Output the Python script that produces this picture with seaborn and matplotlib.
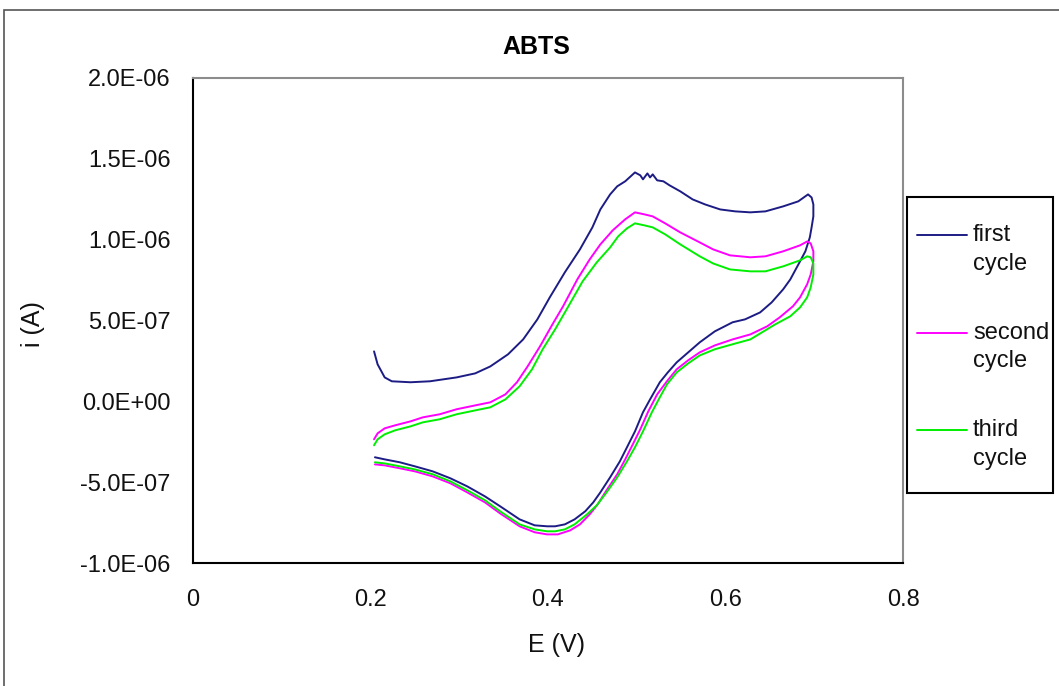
import numpy as np
import pandas as pd
import matplotlib
matplotlib.use("Agg")
import matplotlib.pyplot as plt
from matplotlib.ticker import FuncFormatter, MultipleLocator
from matplotlib.patches import Rectangle
from matplotlib.legend_handler import HandlerLine2D
import seaborn as sns

# ---------------- data (E in V, i in microamps) ----------------
series_names = ["first\ncycle", "second\ncycle", "third\ncycle"]
series_colors = ["#1c1c84", "#ff00ff", "#00ee00"]

first_E = [0.204, 0.208, 0.216, 0.224, 0.245, 0.267, 0.297, 0.318, 0.335, 0.355,
           0.372, 0.388, 0.402, 0.419, 0.436, 0.450, 0.459, 0.470, 0.478, 0.487,
           0.498, 0.504, 0.507, 0.512, 0.515, 0.518, 0.523, 0.530, 0.537, 0.549,
           0.563, 0.577, 0.594, 0.611, 0.628, 0.645, 0.665, 0.682, 0.693, 0.697, 0.699,
           0.699, 0.697, 0.695, 0.690, 0.684, 0.673, 0.665, 0.652, 0.639, 0.622,
           0.608, 0.588, 0.571, 0.558, 0.545, 0.535, 0.526, 0.515, 0.507, 0.498,
           0.489, 0.481, 0.470, 0.459, 0.451, 0.442, 0.430, 0.419, 0.408, 0.399,
           0.385, 0.368, 0.346, 0.329, 0.309, 0.290, 0.270, 0.250, 0.233, 0.216, 0.205]
first_i = [0.309, 0.229, 0.148, 0.124, 0.118, 0.124, 0.148, 0.173, 0.216, 0.291,
           0.383, 0.507, 0.643, 0.798, 0.940, 1.076, 1.187, 1.280, 1.330, 1.361,
           1.416, 1.398, 1.373, 1.410, 1.385, 1.404, 1.367, 1.361, 1.336, 1.299,
           1.249, 1.218, 1.187, 1.175, 1.169, 1.175, 1.206, 1.237, 1.280, 1.261, 1.218,
           1.144, 1.076, 1.014, 0.928, 0.866, 0.754, 0.693, 0.612, 0.550, 0.507,
           0.489, 0.433, 0.365, 0.303, 0.241, 0.179, 0.118, 0.012, -0.068, -0.186,
           -0.284, -0.371, -0.470, -0.563, -0.625, -0.680, -0.730, -0.761, -0.773, -0.773,
           -0.767, -0.730, -0.649, -0.588, -0.526, -0.476, -0.433, -0.402, -0.377, -0.359, -0.346]

second_E = [0.204, 0.208, 0.216, 0.228, 0.245, 0.259, 0.278, 0.297, 0.318, 0.335,
            0.352, 0.365, 0.377, 0.391, 0.405, 0.417, 0.433, 0.447, 0.459, 0.473,
            0.487, 0.498, 0.509, 0.518, 0.532, 0.549, 0.571, 0.586, 0.605, 0.628,
            0.645, 0.665, 0.684, 0.692, 0.696, 0.699,
            0.699, 0.696, 0.692, 0.684, 0.676, 0.661, 0.647, 0.628, 0.608, 0.588,
            0.571, 0.558, 0.545, 0.534, 0.523, 0.513, 0.504, 0.495, 0.487, 0.478,
            0.466, 0.456, 0.447, 0.436, 0.425, 0.411, 0.399, 0.385, 0.368, 0.346,
            0.329, 0.309, 0.290, 0.270, 0.250, 0.233, 0.216, 0.205]
second_i = [-0.235, -0.198, -0.167, -0.148, -0.124, -0.099, -0.080, -0.049, -0.025, -0.006,
            0.043, 0.118, 0.216, 0.340, 0.476, 0.588, 0.754, 0.878, 0.971, 1.058,
            1.126, 1.169, 1.156, 1.144, 1.101, 1.045, 0.983, 0.940, 0.903, 0.891,
            0.897, 0.928, 0.965, 0.989, 0.977, 0.928,
            0.866, 0.785, 0.724, 0.643, 0.588, 0.519, 0.464, 0.414, 0.383, 0.346,
            0.303, 0.254, 0.198, 0.124, 0.043, -0.062, -0.173, -0.272, -0.359, -0.451,
            -0.550, -0.637, -0.699, -0.761, -0.798, -0.823, -0.823, -0.810, -0.773, -0.693,
            -0.625, -0.563, -0.507, -0.464, -0.433, -0.414, -0.396, -0.390]

third_E = [0.204, 0.208, 0.216, 0.228, 0.245, 0.259, 0.278, 0.297, 0.318, 0.335,
           0.352, 0.368, 0.382, 0.394, 0.408, 0.421, 0.439, 0.455, 0.470, 0.479,
           0.489, 0.498, 0.509, 0.518, 0.532, 0.549, 0.571, 0.586, 0.605, 0.628,
           0.645, 0.665, 0.684, 0.692, 0.696, 0.699,
           0.699, 0.696, 0.692, 0.684, 0.673, 0.656, 0.628, 0.608, 0.588, 0.571,
           0.558, 0.545, 0.534, 0.526, 0.517, 0.507, 0.498, 0.489, 0.478, 0.466,
           0.455, 0.444, 0.430, 0.419, 0.408, 0.399, 0.385, 0.368, 0.346, 0.329,
           0.309, 0.290, 0.270, 0.250, 0.233, 0.216, 0.205]
third_i = [-0.272, -0.235, -0.204, -0.179, -0.155, -0.130, -0.111, -0.080, -0.056, -0.037,
           0.012, 0.093, 0.198, 0.322, 0.445, 0.569, 0.742, 0.860, 0.952, 1.020,
           1.070, 1.101, 1.088, 1.076, 1.033, 0.971, 0.897, 0.853, 0.816, 0.804,
           0.804, 0.835, 0.872, 0.897, 0.891, 0.853,
           0.785, 0.705, 0.643, 0.581, 0.526, 0.476, 0.383, 0.353, 0.322, 0.284,
           0.235, 0.179, 0.105, 0.025, -0.068, -0.186, -0.284, -0.371, -0.470, -0.563,
           -0.643, -0.699, -0.761, -0.792, -0.804, -0.804, -0.792, -0.761, -0.680, -0.612,
           -0.550, -0.495, -0.451, -0.421, -0.402, -0.384, -0.377]

x_ticks = [0, 0.2, 0.4, 0.6, 0.8]
y_min, y_max, y_step = -1.0e-6, 2.0e-6, 0.5e-6
title_text = "ABTS"
x_label = "E (V)"
y_label = "i (A)"

# ---------------- build long-form frame ----------------
frames = []
for name, E, I in zip(series_names, [first_E, second_E, third_E], [first_i, second_i, third_i]):
    frames.append(pd.DataFrame({"E": E, "i": np.array(I) * 1e-6, "cycle": name}))
df = pd.concat(frames, ignore_index=True)

# ---------------- style ----------------
sns.set_style("white")
plt.rcParams["font.family"] = ["Liberation Sans", "DejaVu Sans"]

fig = plt.figure(figsize=(10.59, 6.86), dpi=100)
W, H = 1059, 686
ax = fig.add_axes([193 / W, 1 - 563 / H, (903 - 193) / W, (563 - 78) / H])

sns.lineplot(data=df, x="E", y="i", hue="cycle", hue_order=series_names,
             palette=series_colors, sort=False, estimator=None, units="cycle",
             linewidth=1.4, ax=ax, legend=False)

ax.set_xlim(x_ticks[0], x_ticks[-1])
ax.set_ylim(y_min, y_max)
ax.set_xticks(x_ticks)
ax.yaxis.set_major_locator(MultipleLocator(y_step))
ax.xaxis.set_major_formatter(FuncFormatter(lambda v, p: "0" if abs(v) < 1e-12 else f"{v:g}"))
ax.yaxis.set_major_formatter(FuncFormatter(lambda v, p: f"{v:.1E}"))

fs = 17
ax.tick_params(axis="both", which="major", direction="out", length=6, width=1.5,
               color="black", labelsize=fs, labelcolor="#111111")
ax.tick_params(axis="x", pad=13)
ax.tick_params(axis="y", pad=10)
ax.tick_params(top=False, right=False)

for side in ["left", "bottom"]:
    ax.spines[side].set_color("black")
    ax.spines[side].set_linewidth(1.5)
for side in ["top", "right"]:
    ax.spines[side].set_color("#8c8c8c")
    ax.spines[side].set_linewidth(1.5)

ax.set_xlabel("")
ax.set_ylabel("")
fig.text(556 / W, 1 - 645 / H, x_label, ha="center", va="center", fontsize=18, color="#111111")
fig.text(33 / W, 1 - 324 / H, y_label, ha="center", va="center", rotation=90,
         fontsize=18, color="#111111")
fig.text(536 / W, 1 - 47 / H, title_text, ha="center", va="center", fontsize=18,
         fontweight="bold", color="black")


class TopLineHandler(HandlerLine2D):
    def __init__(self, shift, **kw):
        super().__init__(**kw)
        self.shift = shift

    def create_artists(self, legend, orig_handle, xdescent, ydescent, width, height,
                       fontsize, trans):
        arts = super().create_artists(legend, orig_handle, xdescent, ydescent, width,
                                      height, fontsize, trans)
        for a in arts:
            a.set_ydata(np.asarray(a.get_ydata(), dtype=float) + self.shift)
        return arts


# legend
handles = ax.get_lines()[:3]
leg = fig.legend(handles, series_names, loc="upper left",
                 bbox_to_anchor=(917 / W, 1 - 224 / H),
                 fontsize=fs, frameon=False,
                 handlelength=2.12, handletextpad=0.25, labelspacing=1.98,
                 borderpad=0, borderaxespad=0,
                 handler_map={h: TopLineHandler(10.4) for h in handles})
for t in leg.get_texts():
    t.set_color("#111111")
    t.set_linespacing(1.4)

# legend frame
fig.patches.append(Rectangle((907 / W, 1 - 493 / H), 146 / W, 296 / H, transform=fig.transFigure,
                             fill=False, edgecolor="black", linewidth=1.5))
# outer chart border
fig.patches.append(Rectangle((4 / W, -0.1), 1.2, 1 - 10 / H + 0.1, transform=fig.transFigure,
                             fill=False, edgecolor="#555555", linewidth=1.2))

fig.savefig("out.png", dpi=100, facecolor="white")
